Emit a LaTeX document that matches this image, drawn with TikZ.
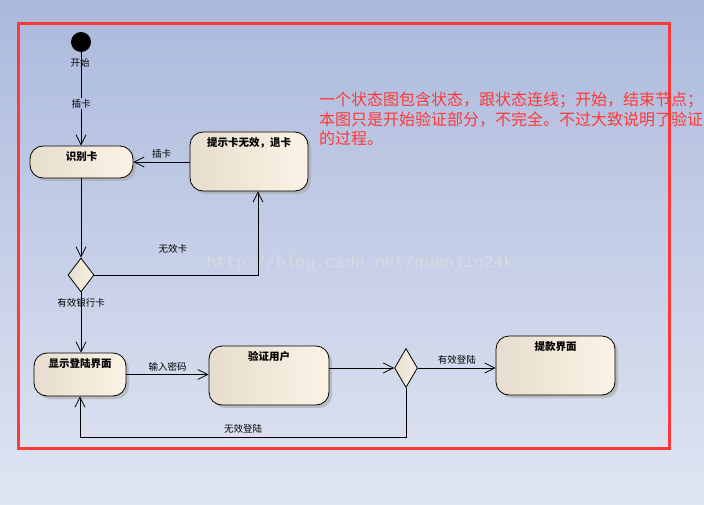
\documentclass[tikz,border=0pt]{standalone}
\usepackage{fontspec}
\setmainfont{Noto Sans CJK SC}
\newfontfamily\wmfont{Liberation Mono}
\usepackage{tikz}
\usetikzlibrary{arrows.meta,shapes.geometric,shadows}

\definecolor{bgtop}{HTML}{ABB9DC}
\definecolor{bgbot}{HTML}{E0E5F2}
\definecolor{frame}{HTML}{FF3838}
\definecolor{boxl}{HTML}{E6DDCE}
\definecolor{boxr}{HTML}{FBF3E5}

\tikzset{
  state/.style={draw, line width=0.8pt, rounded corners=13pt, left color=boxl, right color=boxr,
    drop shadow={shadow xshift=3pt, shadow yshift=-3pt, fill=black!35, opacity=0.6}},
  choice/.style={draw, line width=0.8pt, diamond, inner sep=0pt, left color=boxl, right color=boxr},
  title/.style={font=\fontsize{10.5}{12}\selectfont\bfseries},
  lbl/.style={font=\fontsize{9.5}{11}\selectfont},
  flow/.style={line width=0.8pt, -{Straight Barb[length=10pt,width=10pt,line width=0.8pt]}},
}

\begin{document}
\begin{tikzpicture}[x=1pt,y=-1pt]
    % Sfondo
    \useasboundingbox (0,0) rectangle (704,505);
    \shade[top color=bgtop, bottom color=bgbot] (0,0) rectangle (704,505);
    \node[font=\wmfont\fontsize{16.5}{18}\selectfont, text=black!12, opacity=0.7, anchor=west] (Mark) at (203,263) {http://blog.csdn.net/quanjin24k};

    % Inizio
    \fill (81,42) circle (10pt);
    \coordinate (Start) at (81,52);
    \node[lbl] (StartL) at (80,63) {开始};

    % Stati
    \node[state, minimum width=103pt, minimum height=32pt] (Ident) at (81.5,162) {};
    \node[title, anchor=north] at (Ident.north) [yshift=-2pt] {识别卡};
    \node[state, minimum width=118pt, minimum height=59pt] (Invalid) at (249,161.5) {};
    \node[title, anchor=north] at (Invalid.north) [yshift=-2pt] {提示卡无效，退卡};
    \node[state, minimum width=92pt, minimum height=43pt] (Login) at (80,374.5) {};
    \node[title, anchor=north] at (Login.north) [yshift=-2pt] {显示登陆界面};
    \node[state, minimum width=120pt, minimum height=59pt] (Verify) at (269,375.5) {};
    \node[title, anchor=north] at (Verify.north) [yshift=-2pt] {验证用户};
    \node[state, minimum width=119pt, minimum height=59pt] (Withdraw) at (555.5,365.5) {};
    \node[title, anchor=north] at (Withdraw.north) [yshift=-2pt] {提款界面};

    % Scelte
    \node[choice, minimum width=26pt, minimum height=34pt] (D1) at (81,275) {};
    \node[choice, minimum width=23pt, minimum height=39pt] (D2) at (406,368) {};

    % Transizioni
    \draw[flow] (Start) -- (Ident.north -| Start)
      node[pos=0.55, lbl, fill=bgtop!85!bgbot, inner sep=1pt] {插卡};
    \draw[flow] (Invalid.west |- Ident.east) -- (Ident.east)
      node[midway, above, lbl] {插卡};
    \draw[flow] (Ident.south -| D1) -- (D1.north);
    \draw[flow] (D1.east) -| ([xshift=9pt]Invalid.south)
      node[pos=0.24, above=18pt, lbl] {无效卡};
    \draw[flow] (D1.south) -- (Login.north -| D1)
      node[pos=0.18, lbl] {有效银行卡};
    \draw[flow] (Login.east) -- (Verify.west |- Login.east)
      node[midway, above, lbl] {输入密码};
    \draw[flow] (Verify.east |- D2) -- (D2.west);
    \draw[flow] (D2.east) -- (Withdraw.west |- D2)
      node[midway, above, lbl] {有效登陆};
    \coordinate (Back) at (80,437);
    \draw[flow] (D2.south) |- (Back) node[pos=0.75, above, lbl] {无效登陆} -- (Login.south);

    % Nota
    \node[anchor=north west, align=left, text=frame, inner sep=0pt,
      font=\fontsize{16}{19.5}\selectfont] (Note) at (319,92)
      {一个状态图包含状态，跟状态连线；开始，结束节点；\\本图只是开始验证部分，不完全。不过大致说明了验证\\的过程。};

    % Cornice
    \draw[frame, line width=3pt] (18.5,23.5) rectangle (669.5,448.5);
\end{tikzpicture}
\end{document}
